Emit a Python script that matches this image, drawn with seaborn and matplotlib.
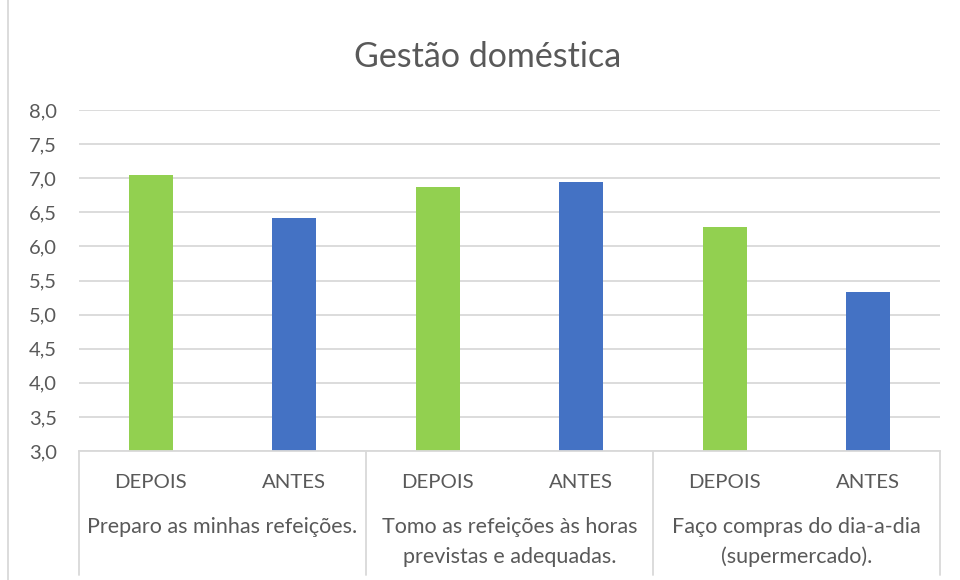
import matplotlib
matplotlib.use('Agg')
from matplotlib import pyplot as plt
from matplotlib.lines import Line2D
import matplotlib.transforms as mtransforms
import pandas as pd
import seaborn as sb

sb.set_style('white')
plt.rcParams['font.family'] = ['Lato', 'DejaVu Sans']

questions = ['Preparo as minhas refeições.',
             'Tomo as refeições às horas\nprevistas e adequadas.',
             'Faço compras do dia-a-dia\n(supermercado).']
periods = ['DEPOIS', 'ANTES']
depois = [7.04, 6.87, 6.29]
antes = [6.42, 6.95, 5.33]
colors = {'DEPOIS': '#92D050', 'ANTES': '#4472C4'}
yticks = [3.0, 3.5, 4.0, 4.5, 5.0, 5.5, 6.0, 6.5, 7.0, 7.5, 8.0]

rows = []
for i, q in enumerate(questions):
    rows.append({'key': f'{i}-DEPOIS', 'item': q, 'periodo': 'DEPOIS', 'valor': depois[i]})
    rows.append({'key': f'{i}-ANTES', 'item': q, 'periodo': 'ANTES', 'valor': antes[i]})
df = pd.DataFrame(rows)

txt = '#595959'
grid = '#D9D9D9'

fig = plt.figure(figsize=(9.6, 5.8), dpi=100)
ax = fig.add_axes([79/960, 1-451/580, (940-79)/960, (451-110)/580])

sb.barplot(data=df, x='key', y='valor', hue='periodo', palette=colors,
           order=list(df['key']), dodge=False, width=0.31, legend=False, ax=ax,
           edgecolor='none', saturation=1)

ax.set_ylim(3, 8)
ax.set_xlim(-0.5, len(df) - 0.5)
ax.set_yticks(yticks)
ax.set_yticklabels([f'{v:.1f}'.replace('.', ',') for v in yticks], color=txt, fontsize=14.5)
ax.yaxis.grid(True, color=grid, linewidth=1.3)
ax.set_axisbelow(True)
ax.tick_params(axis='both', length=0)
ax.tick_params(axis='y', pad=16)
ax.set_xticks([])
ax.set_xlabel('')
ax.set_ylabel('')
for s in ['top', 'right', 'left']:
    ax.spines[s].set_visible(False)
ax.spines['bottom'].set_color(grid)
ax.spines['bottom'].set_linewidth(1.3)

# separators and two-level category labels below the axis
trans = mtransforms.blended_transform_factory(ax.transData, ax.transAxes)
h = 451 - 110
for x in [-0.5, 1.5, 3.5, 5.5]:
    ax.plot([x, x], [0, -(575 - 451) / h], color=grid, lw=1.3,
            transform=trans, clip_on=False)
for j, row in df.iterrows():
    ax.text(j, -(483 - 451) / h, row['periodo'], transform=trans,
            ha='center', va='center', color=txt, fontsize=14.7)
for i, q in enumerate(questions):
    for k, line in enumerate(q.split('\n')):
        ax.text(2 * i + 0.5, -(527 + 30 * k - 451) / h, line, transform=trans,
                ha='center', va='center', color=txt, fontsize=15.5)

fig.suptitle('Gestão doméstica', x=488/960, y=1-57/580, va='center',
             color=txt, fontsize=24.5)
fig.add_artist(Line2D([8/960, 8/960], [0, 1], color=grid, lw=1.3))

fig.savefig('out.png', dpi=100, facecolor='white')
